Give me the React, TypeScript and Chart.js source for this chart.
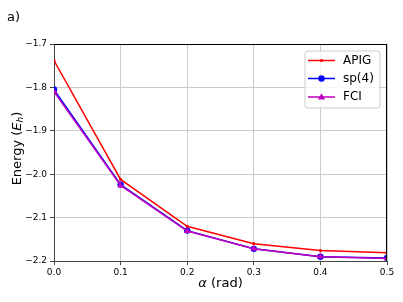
import React, { useEffect, useRef } from "react";
import { Chart, registerables } from "chart.js";

Chart.register(...registerables);

const alphaValues = [0, 0.1, 0.2, 0.3, 0.4, 0.5];
const apigEnergy = [-1.738, -2.012, -2.12, -2.16, -2.176, -2.181];
const sp4Energy = [-1.805, -2.024, -2.13, -2.172, -2.19, -2.193];
const fciEnergy = [-1.81, -2.026, -2.131, -2.172, -2.19, -2.194];
const seriesNames = ["APIG", "sp(4)", "FCI"];
const seriesColors = ["#ff0000", "#0000ff", "#bf00bf"];
const panelLabel = "a)";

const FONT = "'DejaVu Sans', sans-serif";

function toPoints(ys: number[]) {
  return alphaValues.map((x, i) => ({ x, y: ys[i] }));
}

const fmt = (v: number) => {
  const s = Number(v).toFixed(1);
  return s.replace("-", "\u2212");
};

function drawSegments(
  ctx: CanvasRenderingContext2D,
  segs: { t: string; f: string; dy?: number }[],
  cx: number,
  cy: number
) {
  let total = 0;
  for (const s of segs) {
    ctx.font = s.f;
    total += ctx.measureText(s.t).width;
  }
  let x = cx - total / 2;
  ctx.textBaseline = "middle";
  ctx.textAlign = "left";
  for (const s of segs) {
    ctx.font = s.f;
    ctx.fillText(s.t, x, cy + (s.dy || 0));
    x += ctx.measureText(s.t).width;
  }
}

const decorPlugin = {
  id: "decor",
  afterDraw(chart: any) {
    const { ctx, chartArea } = chart;
    const { left, right, top, bottom } = chartArea;
    ctx.save();
    // top & right spines
    ctx.strokeStyle = "#000";
    ctx.lineWidth = 1;
    ctx.beginPath();
    ctx.moveTo(left, top + 0.5);
    ctx.lineTo(right, top + 0.5);
    ctx.moveTo(right - 0.5, top);
    ctx.lineTo(right - 0.5, bottom);
    ctx.stroke();

    ctx.fillStyle = "#000";
    // panel label
    ctx.font = `13px ${FONT}`;
    ctx.textAlign = "left";
    ctx.textBaseline = "middle";
    ctx.fillText(panelLabel, 7, 18);

    // x title
    drawSegments(
      ctx,
      [
        { t: "\u03b1", f: `italic 13px ${FONT}` },
        { t: " (rad)", f: `13px ${FONT}` },
      ],
      (left + right) / 2,
      284
    );

    // y title
    ctx.save();
    ctx.translate(18, (top + bottom) / 2 - 4);
    ctx.rotate(-Math.PI / 2);
    drawSegments(
      ctx,
      [
        { t: "Energy (", f: `13px ${FONT}` },
        { t: "E", f: `italic 13px ${FONT}` },
        { t: "h", f: `italic 9px ${FONT}`, dy: 3 },
        { t: ")", f: `13px ${FONT}` },
      ],
      0,
      0
    );
    ctx.restore();

    // legend
    const bx = 305, by = 51, bw = 75, bh = 57;
    ctx.beginPath();
    const r = 3;
    ctx.moveTo(bx + r, by);
    ctx.arcTo(bx + bw, by, bx + bw, by + bh, r);
    ctx.arcTo(bx + bw, by + bh, bx, by + bh, r);
    ctx.arcTo(bx, by + bh, bx, by, r);
    ctx.arcTo(bx, by, bx + bw, by, r);
    ctx.closePath();
    ctx.fillStyle = "rgba(255,255,255,0.8)";
    ctx.fill();
    ctx.strokeStyle = "#cccccc";
    ctx.lineWidth = 1;
    ctx.stroke();

    const rows = [60.5, 78.5, 97];
    seriesNames.forEach((name, i) => {
      const y = rows[i];
      const c = seriesColors[i];
      ctx.strokeStyle = c;
      ctx.lineWidth = 1.5;
      ctx.beginPath();
      ctx.moveTo(308, y);
      ctx.lineTo(335, y);
      ctx.stroke();
      ctx.fillStyle = c;
      const mx = 321.5;
      if (i === 0) {
        ctx.beginPath();
        ctx.arc(mx, y, 1.6, 0, Math.PI * 2);
        ctx.fill();
      } else if (i === 1) {
        ctx.beginPath();
        ctx.arc(mx, y, 3.2, 0, Math.PI * 2);
        ctx.fill();
      } else {
        ctx.beginPath();
        ctx.moveTo(mx, y - 3.8);
        ctx.lineTo(mx + 3.6, y + 2.6);
        ctx.lineTo(mx - 3.6, y + 2.6);
        ctx.closePath();
        ctx.fill();
      }
      ctx.fillStyle = "#000";
      ctx.font = `12px ${FONT}`;
      ctx.textAlign = "left";
      ctx.textBaseline = "middle";
      ctx.fillText(name, 343, y);
    });
    ctx.restore();
  },
};

export default function App() {
  const ref = useRef<HTMLCanvasElement | null>(null);
  useEffect(() => {
    if (!ref.current) return;
    const chart = new Chart(ref.current, {
      type: "line",
      data: {
        datasets: [
          {
            label: seriesNames[0],
            data: toPoints(apigEnergy),
            borderColor: seriesColors[0],
            backgroundColor: seriesColors[0],
            borderWidth: 1.5,
            pointRadius: 1.6,
            pointStyle: "circle",
            pointBorderWidth: 0,
            order: 3,
          },
          {
            label: seriesNames[1],
            data: toPoints(sp4Energy),
            borderColor: seriesColors[1],
            backgroundColor: seriesColors[1],
            borderWidth: 1.5,
            pointRadius: 3.2,
            pointStyle: "circle",
            pointBorderWidth: 0,
            order: 2,
          },
          {
            label: seriesNames[2],
            data: toPoints(fciEnergy),
            borderColor: seriesColors[2],
            backgroundColor: seriesColors[2],
            borderWidth: 1.5,
            pointRadius: 3.8,
            pointStyle: "triangle",
            pointBorderWidth: 0,
            order: 1,
          },
        ],
      },
      options: {
        responsive: false,
        animation: false,
        layout: { padding: { top: 44, right: 16, left: 0, bottom: 0 } },
        plugins: { legend: { display: false }, tooltip: { enabled: false } },
        scales: {
          x: {
            type: "linear",
            min: 0,
            max: 0.5,
            afterFit: (s: any) => {
              s.height = 41;
            },
            ticks: {
              stepSize: 0.1,
              color: "#000",
              font: { size: 9, family: FONT },
              padding: 2,
              callback: (v: any) => fmt(v),
              maxRotation: 0,
            },
            grid: {
              color: "#cbcbcb",
              tickColor: "#444",
              tickLength: 4,
              lineWidth: 1,
            },
            border: { color: "#444", width: 1 },
          },
          y: {
            type: "linear",
            min: -2.2,
            max: -1.7,
            afterFit: (s: any) => {
              s.width = 54;
            },
            ticks: {
              stepSize: 0.1,
              color: "#000",
              font: { size: 9, family: FONT },
              padding: 3,
              callback: (v: any) => fmt(v),
            },
            grid: {
              color: "#cbcbcb",
              tickColor: "#444",
              tickLength: 4,
              lineWidth: 1,
            },
            border: { color: "#444", width: 1 },
          },
        },
      },
      plugins: [decorPlugin],
    } as any);
    return () => chart.destroy();
  }, []);
  return (
    <div style={{ position: "fixed", left: 0, top: 0, width: 403, height: 302, background: "#fff" }}>
      <canvas ref={ref} width={403} height={302} style={{ width: 403, height: 302, display: "block" }} />
    </div>
  );
}
